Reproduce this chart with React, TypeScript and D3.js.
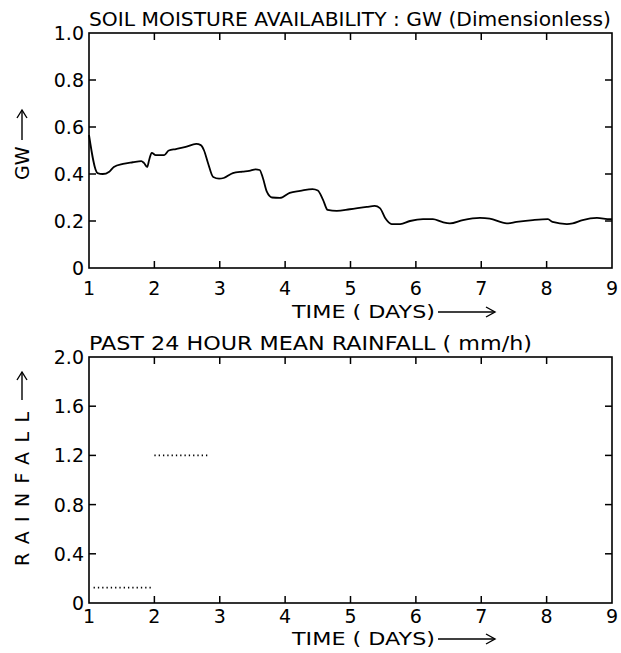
import React from "react";
import * as d3 from "d3";

const gwDays = [1.0, 1.13, 1.21, 1.31, 1.38, 1.52, 1.67, 1.8, 1.84, 1.89, 1.92, 1.96, 2.02, 2.15, 2.22, 2.33, 2.48, 2.64, 2.71, 2.76, 2.82, 2.9, 2.99, 3.06, 3.2, 3.35, 3.45, 3.55, 3.61, 3.66, 3.72, 3.8, 3.92, 4.07, 4.23, 4.42, 4.5, 4.58, 4.65, 4.79, 4.99, 5.25, 5.37, 5.45, 5.53, 5.63, 5.76, 5.91, 6.11, 6.26, 6.4, 6.52, 6.72, 6.98, 7.13, 7.39, 7.54, 7.79, 8.02, 8.09, 8.31, 8.4, 8.55, 8.77, 8.97, 9.0];
const gwValues = [0.566, 0.404, 0.4, 0.41, 0.43, 0.443, 0.45, 0.455, 0.447, 0.43, 0.46, 0.49, 0.48, 0.48, 0.5, 0.506, 0.515, 0.528, 0.523, 0.5, 0.447, 0.387, 0.38, 0.383, 0.404, 0.41, 0.413, 0.42, 0.417, 0.383, 0.325, 0.3, 0.298, 0.32, 0.328, 0.336, 0.33, 0.29, 0.247, 0.243, 0.25, 0.26, 0.264, 0.255, 0.213, 0.187, 0.187, 0.2, 0.208, 0.208, 0.196, 0.19, 0.204, 0.213, 0.21, 0.19, 0.196, 0.204, 0.208, 0.196, 0.187, 0.19, 0.204, 0.213, 0.208, 0.208];

const rainStart = [1.07, 2.0];
const rainEnd = [1.97, 2.85];
const rainValues = [0.125, 1.2];

const dayTicks = [1, 2, 3, 4, 5, 6, 7, 8, 9];
const gwTicks = [0, 0.2, 0.4, 0.6, 0.8, 1.0];
const gwTickLabels = ["0", "0.2", "0.4", "0.6", "0.8", "1.0"];
const rainTicks = [0, 0.4, 0.8, 1.2, 1.6, 2.0];
const rainTickLabels = ["0", "0.4", "0.8", "1.2", "1.6", "2.0"];

const FONT = "'DejaVu Sans', 'Liberation Sans', sans-serif";
const LEFT = 89;
const RIGHT = 612;

type PanelProps = {
  top: number;
  bottom: number;
  yMax: number;
  yTicks: number[];
  yLabels: string[];
  title: string;
  titleWidth: number;
  yTitle: string;
  yTitleFrom: number;
  yTitleLength: number | null;
  arrowFrom: number;
  arrowTo: number;
  xLabelOffset: number;
  timeOffset: number;
  children: (x: d3.ScaleLinear<number, number>, y: d3.ScaleLinear<number, number>) => React.ReactNode;
};

function Panel(p: PanelProps) {
  const { top, bottom, yMax, yTicks, yLabels, title, titleWidth, yTitle } = p;
  const x = d3.scaleLinear().domain([1, 9]).range([LEFT, RIGHT]);
  const y = d3.scaleLinear().domain([0, yMax]).range([bottom, top]);
  const tl = 7;
  const ax = 22;
  const ty = bottom + p.timeOffset;
  const lenProps = p.yTitleLength ? { textLength: p.yTitleLength, lengthAdjust: "spacing" } : {};
  return (
    <g>
      <rect x={LEFT} y={top} width={RIGHT - LEFT} height={bottom - top} fill="none" stroke="#000" strokeWidth={1.6} />
      {dayTicks.slice(1, -1).map((d) => (
        <g key={"xt" + d}>
          <line x1={x(d)} x2={x(d)} y1={bottom} y2={bottom - tl} stroke="#000" strokeWidth={1.5} />
          <line x1={x(d)} x2={x(d)} y1={top} y2={top + tl} stroke="#000" strokeWidth={1.5} />
        </g>
      ))}
      {dayTicks.map((d) => (
        <text key={"xl" + d} x={x(d)} y={bottom + p.xLabelOffset} textAnchor="middle" fontFamily={FONT} fontSize={19}>
          {d}
        </text>
      ))}
      {yTicks.slice(1, -1).map((v) => (
        <g key={"yt" + v}>
          <line x1={LEFT} x2={LEFT + tl} y1={y(v)} y2={y(v)} stroke="#000" strokeWidth={1.5} />
          <line x1={RIGHT} x2={RIGHT - tl} y1={y(v)} y2={y(v)} stroke="#000" strokeWidth={1.5} />
        </g>
      ))}
      {yTicks.map((v, i) => (
        <text key={"yl" + v} x={LEFT - 5} y={y(v) + 7} textAnchor="end" fontFamily={FONT} fontSize={19}>
          {yLabels[i]}
        </text>
      ))}
      <text x={LEFT} y={top - 7} fontFamily={FONT} fontSize={19} textLength={titleWidth} lengthAdjust="spacingAndGlyphs">
        {title}
      </text>
      <text x={292} y={ty} fontFamily={FONT} fontSize={18} textLength={143} lengthAdjust="spacingAndGlyphs">
        TIME ( DAYS)
      </text>
      <line x1={438} x2={494} y1={ty - 6} y2={ty - 6} stroke="#000" strokeWidth={1.4} />
      <path d={`M486,${ty - 11} L495,${ty - 6} L486,${ty - 1}`} fill="none" stroke="#000" strokeWidth={1.4} />
      <text
        transform={`translate(${ax + 7},${p.yTitleFrom}) rotate(-90)`}
        fontFamily={FONT}
        fontSize={19}
        {...lenProps}
      >
        {yTitle}
      </text>
      <line x1={ax} x2={ax} y1={p.arrowFrom} y2={p.arrowTo} stroke="#000" strokeWidth={1.4} />
      <path d={`M${ax - 5},${p.arrowTo + 8} L${ax},${p.arrowTo} L${ax + 5},${p.arrowTo + 8}`} fill="none" stroke="#000" strokeWidth={1.4} />
      {p.children(x, y)}
    </g>
  );
}

export default function App() {
  const pts: [number, number][] = gwDays.map((d, i) => [d, gwValues[i]]);
  return (
    <svg width={621} height={653} style={{ position: "absolute", left: 0, top: 0, background: "#fff" }}>
      <rect width={621} height={653} fill="#fff" />
      <Panel
        top={33}
        bottom={268}
        yMax={1}
        yTicks={gwTicks}
        yLabels={gwTickLabels}
        title="SOIL MOISTURE AVAILABILITY : GW (Dimensionless)"
        titleWidth={522}
        yTitle="GW"
        yTitleFrom={180}
        yTitleLength={null}
        arrowFrom={140}
        arrowTo={110}
        xLabelOffset={27}
        timeOffset={50}
      >
        {(x, y) => {
          const line = d3
            .line<[number, number]>()
            .x((q) => x(q[0]))
            .y((q) => y(q[1]))
            .curve(d3.curveMonotoneX);
          return <path d={line(pts) || ""} fill="none" stroke="#000" strokeWidth={1.8} strokeLinejoin="round" />;
        }}
      </Panel>
      <Panel
        top={357}
        bottom={603}
        yMax={2}
        yTicks={rainTicks}
        yLabels={rainTickLabels}
        title="PAST 24 HOUR  MEAN RAINFALL ( mm/h)"
        titleWidth={443}
        yTitle="RAINFALL"
        yTitleFrom={566}
        yTitleLength={154}
        arrowFrom={400}
        arrowTo={372}
        xLabelOffset={20}
        timeOffset={42}
      >
        {(x, y) =>
          rainValues.map((v, i) => (
            <line
              key={"r" + i}
              x1={x(rainStart[i])}
              x2={x(rainEnd[i])}
              y1={y(v)}
              y2={y(v)}
              stroke="#000"
              strokeWidth={1.6}
              strokeDasharray="1.3,3"
            />
          ))
        }
      </Panel>
    </svg>
  );
}
